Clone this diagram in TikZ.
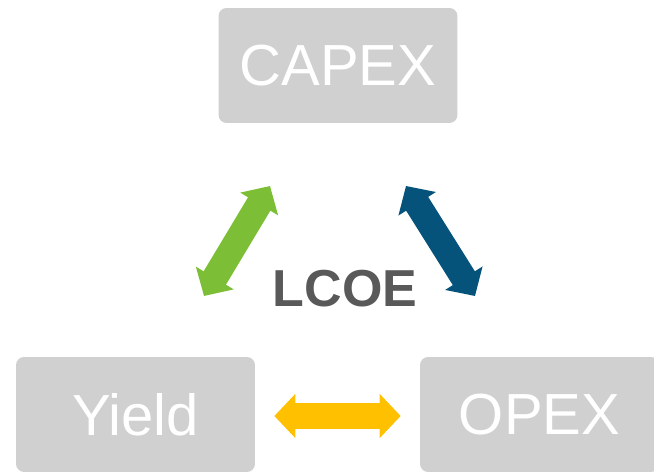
\documentclass[tikz,border=0pt]{standalone}
\usepackage{fontspec}
\setmainfont{Liberation Sans}
\usetikzlibrary{arrows.meta}
\definecolor{boxgray}{HTML}{D0D0D0}
\definecolor{lcoegray}{HTML}{595959}
\definecolor{capgreen}{HTML}{7CBF36}
\definecolor{opblue}{HTML}{05527A}
\definecolor{yieldyellow}{HTML}{FFC000}

\begin{document}
\begin{tikzpicture}[x=0.02cm,y=-0.02cm,
    costbox/.style={fill=boxgray,rounded corners=8*0.02cm,minimum width=4.78cm,
      minimum height=2.3cm,text=white,font=\fontsize{33}{36}\selectfont},
    dblarrow/.style={line width=26*0.02cm,
      {Triangle[width=43*0.02cm,length=21*0.02cm]}-{Triangle[width=43*0.02cm,length=21*0.02cm]}}]
    \useasboundingbox (0,0) rectangle (654,472);
    \node[costbox] (capex) at (338,65.5) {CAPEX};
    \node[costbox] (yield) at (135.5,414.5) {Yield};
    \node[costbox] (opex) at (539.5,414.5) {OPEX};
    \node[font=\bfseries\fontsize{29.6}{32}\selectfont,text=lcoegray] (lcoe) at (345,289) {LCOE};
    % free ends of the diagonal arrows
    \coordinate (g1) at (204,296);
    \coordinate (g2) at (270,186);
    \coordinate (b1) at (406,186);
    \coordinate (b2) at (475,296);
    \draw[dblarrow,capgreen] (g1) -- (g2);
    \draw[dblarrow,opblue] (b1) -- (b2);
    \draw[dblarrow,yieldyellow,shorten <=19*0.02cm,shorten >=19*0.02cm]
      (yield.east|-0,416) -- (opex.west|-0,416);
\end{tikzpicture}
\end{document}
